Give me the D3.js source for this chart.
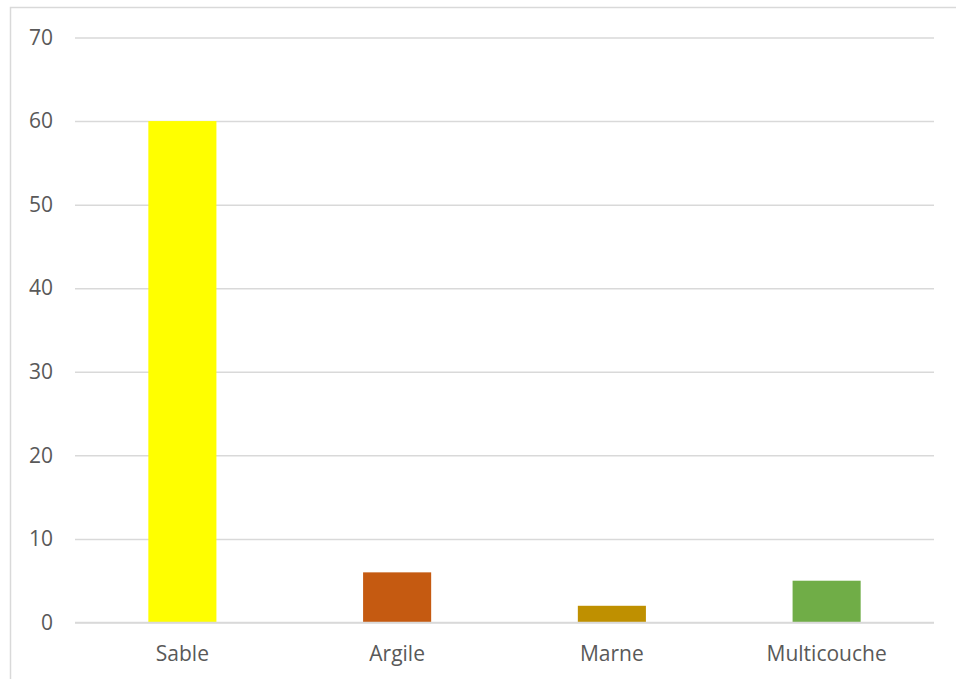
<!DOCTYPE html>
<html>
<head>
<meta charset="utf-8">
<script src="https://cdn.jsdelivr.net/npm/d3@7/dist/d3.min.js"></script>
<style>
  html, body { margin: 0; padding: 0; background: #fff; }
  svg { display: block; }
</style>
</head>
<body>
<script>
// Soil types and the count recorded for each
const categories = ["Sable", "Argile", "Marne", "Multicouche"];
const values = [60, 6, 2, 5];
const colors = ["#FFFF00", "#C55A11", "#BF9000", "#70AD47"];
const yTicks = [0, 10, 20, 30, 40, 50, 60, 70];

const width = 956, height = 679;
const margin = { left: 75, right: 22, top: 37.5, bottom: 56.5 };

const svg = d3.select("body").append("svg")
  .attr("width", width)
  .attr("height", height);

// chart frame (runs past the bottom and right edges)
svg.append("rect")
  .attr("x", 10.5).attr("y", 7.5)
  .attr("width", 960).attr("height", 700)
  .attr("fill", "#fff")
  .attr("stroke", "#D9D9D9")
  .attr("stroke-width", 1.5);

const x = d3.scaleBand()
  .domain(categories)
  .range([margin.left, width - margin.right])
  .paddingInner(0.683)
  .paddingOuter(0.683 / 2);

const y = d3.scaleLinear()
  .domain([0, 70])
  .range([height - margin.bottom, margin.top]);

const font = "'Open Sans', sans-serif";

// horizontal gridlines with value labels
const yAxis = d3.axisLeft(y)
  .tickValues(yTicks)
  .tickSize(-(width - margin.left - margin.right))
  .tickPadding(22)
  .tickFormat(d3.format("d"));

const gy = svg.append("g")
  .attr("transform", `translate(${margin.left},0)`)
  .call(yAxis);
gy.select(".domain").remove();
gy.selectAll(".tick line")
  .attr("stroke", "#D9D9D9")
  .attr("stroke-width", 1.5);
gy.selectAll(".tick text")
  .attr("fill", "#595959")
  .style("font-family", font)
  .style("font-size", "21px");

// bars
svg.append("g")
  .selectAll("rect")
  .data(categories)
  .join("rect")
  .attr("x", d => x(d))
  .attr("width", x.bandwidth())
  .attr("y", (d, i) => y(values[i]))
  .attr("height", (d, i) => y(0) - y(values[i]))
  .attr("fill", (d, i) => colors[i]);

// category axis
const xAxis = d3.axisBottom(x).tickSize(0).tickPadding(24);
const gx = svg.append("g")
  .attr("transform", `translate(0,${y(0)})`)
  .call(xAxis);
gx.select(".domain")
  .attr("stroke", "#D9D9D9")
  .attr("stroke-width", 1.5)
  .attr("d", `M${margin.left},0H${width - margin.right}`);
gx.selectAll(".tick text")
  .attr("fill", "#595959")
  .style("font-family", font)
  .style("font-size", "21px");
</script>
</body>
</html>
